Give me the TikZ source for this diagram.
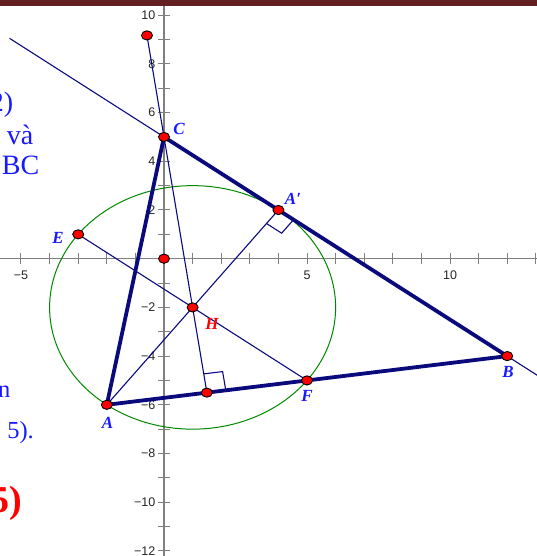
\documentclass[tikz,border=0pt]{standalone}
\usepackage{fontspec}
\setmainfont{Liberation Serif}
\newfontfamily\axfont{Liberation Sans}
\usetikzlibrary{calc,shapes.geometric}
\definecolor{navy}{RGB}{10,10,125}
\definecolor{lblblue}{RGB}{25,25,255}
\definecolor{axgray}{RGB}{128,128,128}
\definecolor{barred}{RGB}{98,32,32}
\definecolor{ptred}{RGB}{255,0,0}
\definecolor{circgreen}{RGB}{0,135,0}
\begin{document}
\begin{tikzpicture}[x=28.6pt,y=24.35pt,
  thinln/.style={navy,line width=1.1pt},
  thickln/.style={navy,line width=3.8pt,line cap=round,line join=round},
  axisln/.style={axgray,line width=1.3pt},
  tickln/.style={axgray,line width=1pt},
  ticklbl/.style={font=\axfont\fontsize{12.5}{13}\selectfont,text=black!85,inner sep=0pt},
  dot/.style={ellipse,draw=black,line width=0.9pt,fill=ptred,minimum width=11pt,minimum height=9.2pt,inner sep=0pt},
  ptlbl/.style={font=\fontsize{17}{18}\selectfont\bfseries\itshape,text=lblblue,inner sep=0pt},
  sidetxt/.style={font=\fontsize{28}{30}\selectfont,text=lblblue,inner sep=0pt,anchor=base east},
  sidetxtb/.style={font=\fontsize{24.5}{26}\selectfont,text=lblblue,inner sep=0pt,anchor=base east},
]
\useasboundingbox (-164pt,-297.3pt) rectangle (373pt,258.7pt);
% top bar
\fill[barred] (-164pt,252.7pt) rectangle (373pt,258.7pt);
% axes
\draw[axisln] (-164pt,0) -- (373pt,0);
\draw[axisln] (0,252.7pt) -- (0,-297.3pt);
\foreach \k in {-5,...,13} {\draw[tickln] ($(\k,0)+(0,-5.5pt)$) -- ($(\k,0)+(0,5.5pt)$);}
\foreach \k in {-12,...,10} {\draw[tickln] ($(0,\k)+(-6pt,0)$) -- ($(0,\k)+(6pt,0)$);}
\node[ticklbl] (xm5) at ($(-5,0)+(0,-16.3pt)$) {−5};
\node[ticklbl] (x5) at ($(5,0)+(0,-16.3pt)$) {5};
\node[ticklbl] (x10) at ($(10,0)+(0,-16.3pt)$) {10};
\foreach \k/\t in {10/10,8/8,6/6,4/4,2/2,-2/−2,-4/−4,-6/−6,-8/−8,-10/−10,-12/−12}
  {\node[ticklbl,anchor=east] (y\k) at ($(0,\k)+(-8.5pt,0)$) {\t};}
% side text fragments
\node[sidetxt] (s1) at (-150.5pt,146.7pt) {2)};
\node[sidetxt] (s2) at (-130.5pt,113.7pt) {và};
\node[sidetxt] (s3) at (-124.5pt,83.7pt) {BC};
\node[sidetxtb] (s4) at (-153.5pt,-138.3pt) {n};
\node[sidetxtb] (s5) at (-130pt,-179.3pt) {5).};
\node[font=\fontsize{38}{40}\selectfont\bfseries,text=ptred,inner sep=0pt,anchor=base east] (s6) at (-141.5pt,-253.3pt) {5)};
% points
\coordinate (O) at (0,0);
\coordinate (A) at (-2,-6);
\coordinate (B) at (12,-4);
\coordinate (C) at (0,5);
\coordinate (Ap) at (4,2);
\coordinate (H) at (1,-2);
\coordinate (E) at (-3,1);
\coordinate (F) at (5,-5);
\coordinate (D) at (1.5,-5.5);
\coordinate (P) at (-0.596,9.17);
\coordinate (L1) at ($(C)!-0.45!(B)$);
\coordinate (L2) at ($(C)!1.09!(B)$);
% circle
\draw[circgreen,line width=1pt] (H) ellipse [x radius=143pt, y radius=121.75pt];
% thin lines
\draw[thinln] (L1) -- (L2);
\draw[thinln] (E) -- (F);
\draw[thinln] (A) -- (Ap);
\draw[thinln] (P) -- (D);
% right angle marks
\coordinate (m1) at ($(Ap)!18pt!(A)$);
\coordinate (m2) at ($(Ap)!18pt!(B)$);
\draw[thinln] (m1) -- ($(m1)+(m2)-(Ap)$) -- (m2);
\coordinate (n1) at ($(D)!19pt!(C)$);
\coordinate (n2) at ($(D)!19pt!(B)$);
\draw[thinln] (n1) -- ($(n1)+(n2)-(D)$) -- (n2);
% triangle
\draw[thickln] (A) -- (B) -- (C) -- cycle;
% dots
\foreach \p in {P,C,O,E,Ap,H,A,D,F,B} {\node[dot] (d\p) at (\p) {};}
% labels
\node[ptlbl] (lC) at (15pt,129.7pt) {C};
\node[ptlbl] (lE) at (-106pt,21.2pt) {E};
\node[ptlbl] (lAp) at (129pt,59.7pt) {A′};
\node[ptlbl] (lB) at (344pt,-113.3pt) {B};
\node[ptlbl] (lF) at (143pt,-137.3pt) {F};
\node[ptlbl] (lA) at (-56.5pt,-164.3pt) {A};
\node[ptlbl,text=ptred] (lH) at (48pt,-65.3pt) {H};
\end{tikzpicture}
\end{document}
